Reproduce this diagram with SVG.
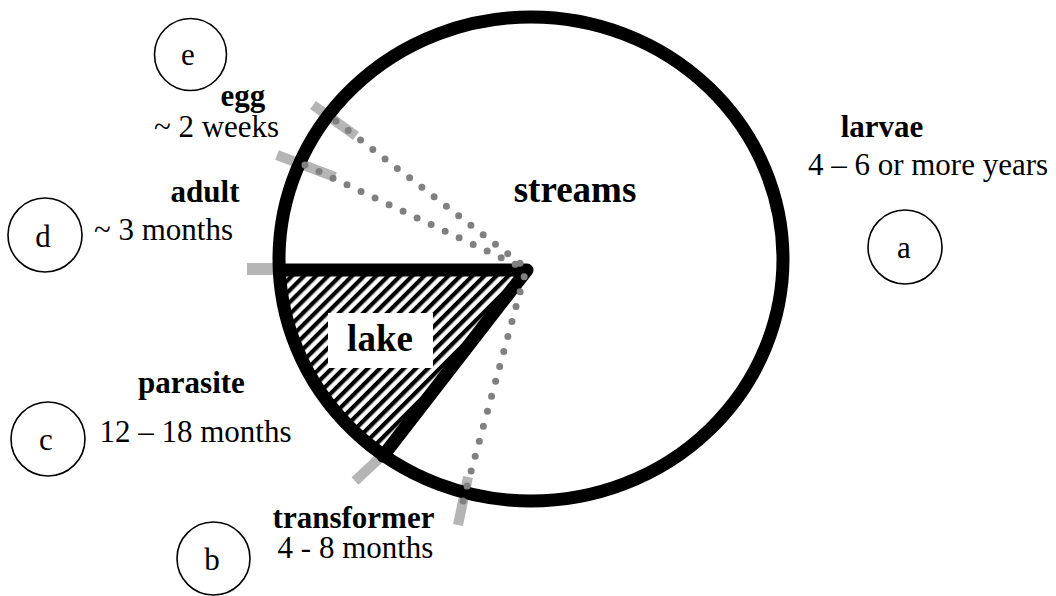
<svg xmlns="http://www.w3.org/2000/svg" width="1056" height="596" viewBox="0 0 1056 596">
<defs>
<pattern id="hatch" width="8.5" height="8.5" patternUnits="userSpaceOnUse" patternTransform="rotate(45)">
<rect x="0" y="0" width="4.2" height="8.5" fill="#000"/>
</pattern>
<style>
.lbl{font-family:"Liberation Serif","Times New Roman",serif;font-size:31px;fill:#000;text-anchor:middle}
.b{font-weight:bold}
.big{font-family:"Liberation Serif","Times New Roman",serif;font-size:37px;font-weight:bold;fill:#000;text-anchor:middle}
.tick{stroke:#b5b5b5;stroke-width:10;fill:none}
.dots{stroke:#808080;stroke-width:7;stroke-linecap:round;stroke-dasharray:0 15.5;fill:none}
.thick{stroke:#000;stroke-width:13;fill:none;stroke-linecap:round;stroke-linejoin:round}
.node circle{fill:#fff;stroke:#000;stroke-width:1.6}
</style>
</defs>
<rect width="1056" height="596" fill="#fff"/>
<g id="ticks">
<line class="tick" x1="313" y1="105" x2="356" y2="136"/>
<line class="tick" x1="277" y1="155" x2="335" y2="177"/>
<line class="tick" x1="247" y1="269" x2="282" y2="269" style="stroke-width:12"/>
<line class="tick" x1="355" y1="481" x2="384" y2="454"/>
<line class="tick" x1="468" y1="477" x2="458" y2="525"/>
</g>
<g id="lake">
<path d="M527,270 L280,270 A252,242 0 0 0 383,456 Z" fill="url(#hatch)"/>
<rect x="328" y="313" width="105" height="55" fill="#fff"/>
<text class="big" x="380" y="351">lake</text>
</g>
<g id="streams">
<ellipse cx="531" cy="259" rx="252" ry="242" fill="none" stroke="#000" stroke-width="13"/>
<text class="big" x="575" y="202">streams</text>
</g>
<g id="connectors">
<path class="thick" d="M280,270 L527,270 L383,456"/>
<line class="dots" x1="336" y1="121" x2="525" y2="267"/>
<line class="dots" x1="305" y1="165" x2="523" y2="268"/>
<line class="dots" x1="463" y1="501" x2="526" y2="270"/>
</g>
<g id="node-a" class="node">
<circle cx="905" cy="247" r="37"/>
<text class="lbl" x="904" y="258">a</text>
<text class="lbl b" x="882" y="137">larvae</text>
<text class="lbl" x="928" y="175">4 – 6 or more years</text>
</g>
<g id="node-b" class="node">
<circle cx="213.5" cy="558.5" r="36.5"/>
<text class="lbl" x="212" y="570">b</text>
<text class="lbl b" x="353.5" y="528">transformer</text>
<text class="lbl" x="355.5" y="558">4 - 8 months</text>
</g>
<g id="node-c" class="node">
<circle cx="48" cy="439" r="37"/>
<text class="lbl" x="46" y="450">c</text>
<text class="lbl b" x="191.5" y="393">parasite</text>
<text class="lbl" x="195.5" y="442">12 – 18 months</text>
</g>
<g id="node-d" class="node">
<circle cx="45" cy="235" r="37"/>
<text class="lbl" x="43" y="247">d</text>
<text class="lbl b" x="205" y="202">adult</text>
<text class="lbl" x="163.5" y="240">~ 3 months</text>
</g>
<g id="node-e" class="node">
<circle cx="190.5" cy="54.5" r="36"/>
<text class="lbl" x="188" y="65">e</text>
<text class="lbl b" x="243" y="106">egg</text>
<text class="lbl" x="216.5" y="137">~ 2 weeks</text>
</g>
</svg>
